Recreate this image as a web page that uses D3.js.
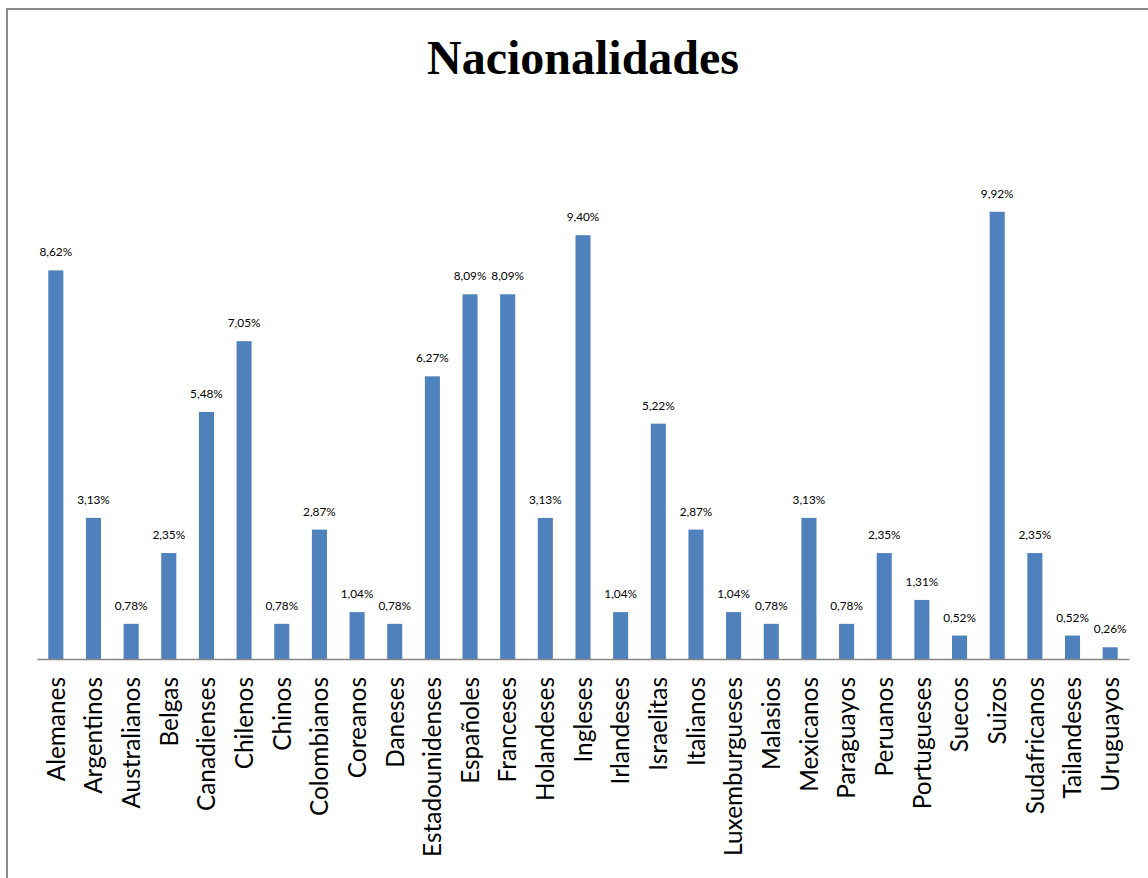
<!DOCTYPE html>
<html><head><meta charset="utf-8">
<script src="https://cdn.jsdelivr.net/npm/d3@7"></script>
<style>body{margin:0;background:#fff}svg{display:block}</style>
</head><body>
<script>
const categories = ["Alemanes","Argentinos","Australianos","Belgas","Canadienses","Chilenos","Chinos","Colombianos","Coreanos","Daneses","Estadounidenses","Españoles","Franceses","Holandeses","Ingleses","Irlandeses","Israelitas","Italianos","Luxemburgueses","Malasios","Mexicanos","Paraguayos","Peruanos","Portugueses","Suecos","Suizos","Sudafricanos","Tailandeses","Uruguayos"];
const values = [8.62,3.13,0.78,2.35,5.48,7.05,0.78,2.87,1.04,0.78,6.27,8.09,8.09,3.13,9.40,1.04,5.22,2.87,1.04,0.78,3.13,0.78,2.35,1.31,0.52,9.92,2.35,0.52,0.26];
const title = "Nacionalidades";
const yDomain = [0, 12];

const W = 1148, H = 878;
const svg = d3.select("body").append("svg").attr("width", W).attr("height", H);

svg.append("rect").attr("x", 7).attr("y", 9).attr("width", W + 20).attr("height", H + 20)
  .attr("fill", "#fff").attr("stroke", "#898989").attr("stroke-width", 2);

svg.append("text").attr("x", 583).attr("y", 74).attr("text-anchor", "middle")
  .attr("font-family", "'Liberation Serif','Times New Roman',serif").attr("font-weight", "bold")
  .attr("font-size", 48).attr("fill", "#000").text(title);

const x = d3.scaleBand().domain(categories).range([37, 1129]).paddingInner(0.6).paddingOuter(0.3);
const y = d3.scaleLinear().domain(yDomain).range([659, 118]);

const font = "Lato, 'Open Sans', sans-serif";

// calibrate font sizes to match Calibri metrics
function fit(str, target) {
  const t = svg.append("text").attr("font-family", font).attr("font-size", 100).text(str);
  const w = t.node().getComputedTextLength();
  t.remove();
  return 100 * target / w;
}
const catSize = fit("Estadounidenses", 180);
const valSize = fit("9,92%", 32.7);

svg.append("g").selectAll("rect").data(values).join("rect")
  .attr("x", (d, i) => x(categories[i]))
  .attr("width", x.bandwidth())
  .attr("y", d => y(d))
  .attr("height", d => y(0) - y(d))
  .attr("fill", "#4F81BD");

const xAxis = svg.append("g").attr("transform", `translate(0,${y(0)})`)
  .call(d3.axisBottom(x).tickSize(0).tickPadding(0));
xAxis.select(".domain").attr("stroke", "#868686").attr("stroke-width", 1.5);
xAxis.selectAll(".tick text")
  .attr("font-family", font).attr("font-size", catSize).attr("fill", "#000")
  .attr("text-anchor", "end")
  .attr("transform", "rotate(-90)")
  .attr("x", -18).attr("y", 0).attr("dy", "0.36em");

svg.append("g").selectAll("text").data(values).join("text")
  .attr("x", (d, i) => x(categories[i]) + x.bandwidth() / 2)
  .attr("y", d => y(d) - 14)
  .attr("text-anchor", "middle")
  .attr("font-family", font).attr("font-size", valSize).attr("fill", "#000")
  .text(d => d.toFixed(2).replace(".", ",") + "%");
</script>
</body></html>
